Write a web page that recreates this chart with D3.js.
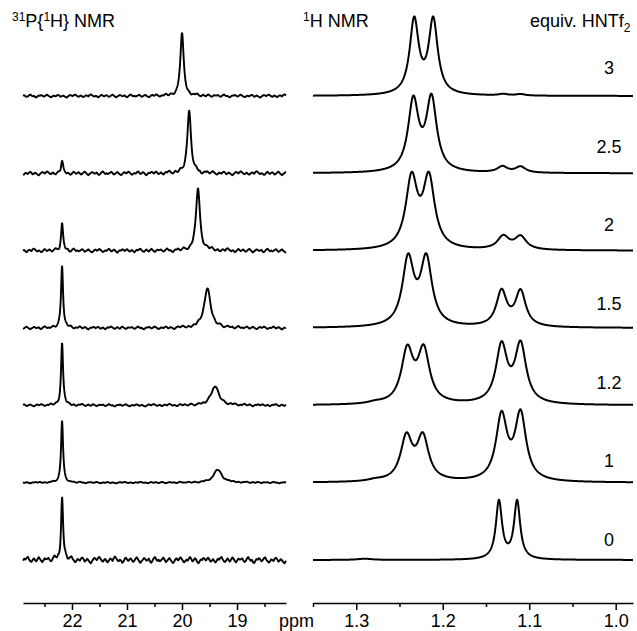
<!DOCTYPE html>
<html><head><meta charset="utf-8">
<script src="https://cdn.jsdelivr.net/npm/d3@7"></script>
<style>
html,body{margin:0;padding:0;background:#fff;}
svg{display:block;font-family:"Liberation Sans",Arial,sans-serif;}
</style></head>
<body>
<svg id="chart" width="637" height="631"></svg>
<script>
// ---- data ----
const equivLabels = ["3", "2.5", "2", "1.5", "1.2", "1", "0"];

// 31P{1H} peaks per spectrum: [ppm, intensity, half-width (ppm)]
const pPeaks = [
  [[20.00, 63, 0.036]],
  [[22.18, 11, 0.022], [19.87, 62, 0.040]],
  [[22.18, 27, 0.022], [19.71, 63, 0.043]],
  [[22.18, 63, 0.022], [19.54, 40, 0.070]],
  [[22.18, 62, 0.022], [19.40, 19, 0.086]],
  [[22.18, 62, 0.022], [19.35, 13, 0.090]],
  [[22.18, 63, 0.022]]
];
// baseline noise level of each 31P spectrum
const pNoiseLevel = [1.6, 2.1, 2.1, 1.6, 1.3, 0.8, 3.4];
// hand-read noise pattern (relative), one value per 0.022 ppm
const noisePattern = [0.2,0.5,-0.1,-0.6,-0.3,0.4,0.9,0.3,-0.2,0.1,-0.7,-0.9,-0.2,0.3,0.1,0.6,0.2,-0.4,-0.1,0.5,
  0.8,0.1,-0.3,-0.8,-0.5,0.2,0.0,-0.3,0.4,0.7,0.2,-0.5,-0.2,0.3,-0.1,-0.6,-1.0,-0.4,0.2,0.6,
  0.3,-0.1,0.5,0.9,0.4,-0.2,-0.5,0.0,0.3,-0.4,-0.7,-0.1,0.4,0.2,-0.3,0.6,1.0,0.5,-0.1,-0.4,
  0.1,-0.2,-0.8,-0.5,0.3,0.7,0.1,-0.3,0.2,0.5,-0.1,-0.6,-0.2,0.4,0.8,0.2,-0.4,-0.9,-0.3,0.1,
  0.6,0.3,-0.2,0.0,0.4,-0.5,-0.8,-0.2,0.5,0.9,0.2,-0.3,0.1,-0.4,-0.1,0.3,0.7,0.1,-0.6,-0.3,
  0.2,0.6,0.0,-0.5,-0.9,-0.4,0.3,0.5,-0.1,0.2,0.8,0.4,-0.2,-0.7,-0.3,0.1,-0.2,0.4,0.9,0.3,
  -0.4,-0.1,0.5,0.2,-0.6,-1.0,-0.3,0.2,0.0,0.6,0.4,-0.2,0.3,0.7,0.1,-0.5,-0.2,0.3,-0.3,-0.8,
  -0.2,0.4,0.1,0.6,0.9,0.2,-0.4,-0.6,0.0,0.5,-0.1,-0.5,0.2,0.8,0.3,-0.3,-0.7,-0.1,0.4,0.1];
const noiseShift = [0, 23, 47, 71, 95, 119, 140];

// 1H peaks per spectrum: [ppm, intensity, half-width (ppm)]
const hPeaks = [
  [[1.233, 74, 0.0063], [1.211, 74, 0.0063], [1.130, 1.5, 0.006], [1.110, 1.5, 0.006]],
  [[1.234, 70, 0.0073], [1.213, 72, 0.0073], [1.131, 6, 0.007], [1.110, 6, 0.007]],
  [[1.236, 69, 0.0081], [1.216, 69, 0.0081], [1.130, 13, 0.0081], [1.110, 13, 0.0081]],
  [[1.240, 66, 0.0080], [1.219, 66, 0.0080], [1.132, 35, 0.0072], [1.110, 35, 0.0072]],
  [[1.241, 52, 0.0082], [1.222, 52, 0.0082], [1.132, 57, 0.0078], [1.110, 58, 0.0078], [1.278, 1.5, 0.01]],
  [[1.242, 43, 0.0081], [1.223, 43, 0.0081], [1.132, 64, 0.0077], [1.110, 66, 0.0077], [1.278, 1.5, 0.01]],
  [[1.135, 58, 0.0043], [1.114, 58, 0.0043], [1.290, 1.2, 0.01]]
];

const pTicks = [22, 21, 20, 19];
const pMinorTicks = [22.5, 21.5, 20.5, 19.5, 18.5];
const hTicks = [1.3, 1.2, 1.1, 1.0];
const hMinorTicks = [1.35, 1.25, 1.15, 1.05];

// ---- scales ----
const xP = d3.scaleLinear().domain([22.89, 18.11]).range([23, 286]);
const xH = d3.scaleLinear().domain([1.35, 0.98]).range([313, 633]);
const rowY = d3.scalePoint().domain(equivLabels).range([96, 560]);
const labelY = d3.scalePoint().domain(equivLabels).range([74, 546]);
const yInt = d3.scaleLinear().domain([0, 100]).range([0, 100]);

const svg = d3.select("#chart");

function lorentz(peaks, ppm) {
  let s = 0;
  for (const [c, h, g] of peaks) { const t = (ppm - c) / g; s += h / (1 + t * t); }
  return s;
}

const noiseStep = 0.022;
function noiseAt(ppm, i) {
  const pos = (22.89 - ppm) / noiseStep;
  const k = Math.floor(pos), f = pos - k;
  const n = noisePattern.length;
  const a = noisePattern[(k + noiseShift[i]) % n];
  const b = noisePattern[(k + 1 + noiseShift[i]) % n];
  return (a * (1 - f) + b * f) * pNoiseLevel[i];
}

const line = d3.line().x(d => d[0]).y(d => d[1]);

// 31P spectra
pPeaks.forEach((peaks, i) => {
  const base = rowY(equivLabels[i]);
  const pts = [];
  for (let p = 22.89; p >= 18.11 - 1e-9; p -= 0.004) {
    pts.push([xP(p), base - yInt(lorentz(peaks, p) + noiseAt(p, i))]);
  }
  svg.append("path").attr("d", line(pts)).attr("fill", "none")
    .attr("stroke", "#000").attr("stroke-width", 1.9).attr("stroke-linejoin", "round");
});

// 1H spectra
hPeaks.forEach((peaks, i) => {
  const base = rowY(equivLabels[i]);
  const pts = [];
  for (let p = 1.35; p >= 0.98 - 1e-9; p -= 0.0004) {
    pts.push([xH(p), base - yInt(lorentz(peaks, p))]);
  }
  svg.append("path").attr("d", line(pts)).attr("fill", "none")
    .attr("stroke", "#000").attr("stroke-width", 2).attr("stroke-linejoin", "round");
});

// equiv labels
svg.selectAll("text.eq").data(equivLabels).join("text")
  .attr("class", "eq").attr("x", 609).attr("y", d => labelY(d))
  .attr("text-anchor", "middle").attr("font-size", 18).text(d => d);

// axes
const axisY = 603;
function drawAxis(scale, major, minor) {
  const g = svg.append("g").attr("transform", `translate(0,${axisY})`);
  g.call(d3.axisBottom(scale).tickValues(major).tickSize(7).tickSizeOuter(0).tickPadding(4)
    .tickFormat(d3.format(scale === xH ? ".1f" : "d")));
  g.append("g").call(d3.axisBottom(scale).tickValues(minor).tickSize(4).tickSizeOuter(0).tickFormat(""))
    .select(".domain").remove();
  g.selectAll("path.domain").attr("stroke-width", 1.6);
  g.selectAll(".tick line").attr("stroke-width", 1.5);
  g.selectAll("text").attr("font-size", 18).attr("font-family", "Liberation Sans, Arial, sans-serif").attr("fill", "#000");
}
drawAxis(xP, pTicks, pMinorTicks);
drawAxis(xH, hTicks, hMinorTicks);

svg.append("text").attr("x", 279).attr("y", 627).attr("font-size", 18).text("ppm");

// titles
const t1 = svg.append("text").attr("x", 12).attr("y", 27).attr("font-size", 18);
t1.append("tspan").attr("font-size", 12).attr("dy", -6).text("31");
t1.append("tspan").attr("dy", 6).text("P{");
t1.append("tspan").attr("font-size", 12).attr("dy", -6).text("1");
t1.append("tspan").attr("dy", 6).text("H} NMR");

const t2 = svg.append("text").attr("x", 303).attr("y", 27).attr("font-size", 18);
t2.append("tspan").attr("font-size", 12).attr("dy", -6).text("1");
t2.append("tspan").attr("dy", 6).text("H NMR");

const t3 = svg.append("text").attr("x", 530).attr("y", 27).attr("font-size", 18);
t3.append("tspan").text("equiv. HNTf");
t3.append("tspan").attr("font-size", 12).attr("dy", 5).text("2");
</script>
</body></html>
